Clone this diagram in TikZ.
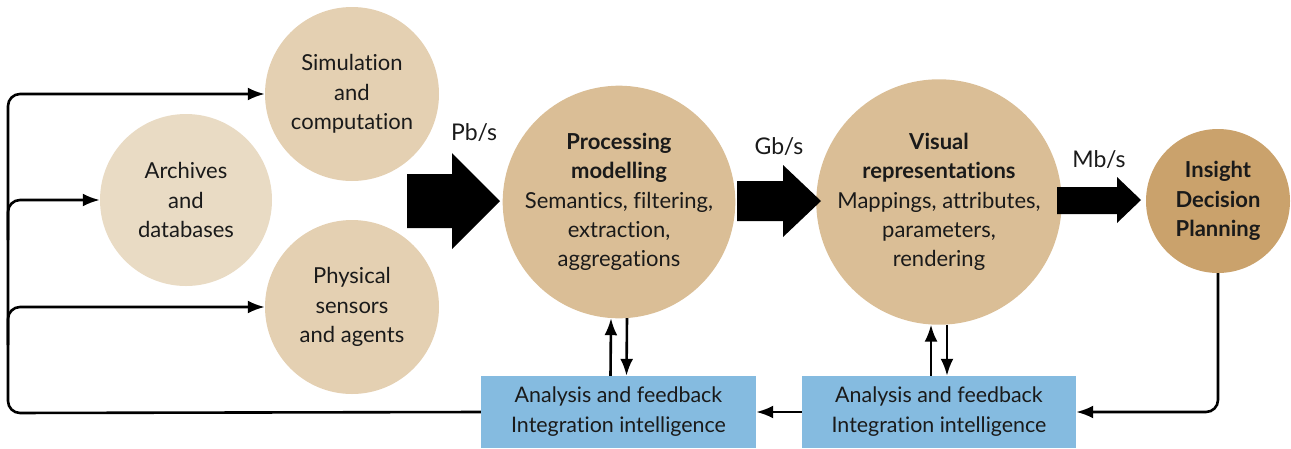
\documentclass[tikz,border=0pt]{standalone}
\usepackage{fontspec}
\setmainfont[Ligatures=NoCommon]{Lato}
\usetikzlibrary{arrows.meta,calc}
\definecolor{cLight}{HTML}{E9DBC4}
\definecolor{cMid}{HTML}{E4D0B2}
\definecolor{cProc}{HTML}{DABE96}
\definecolor{cIns}{HTML}{CAA26C}
\definecolor{cBox}{HTML}{85BBE0}
\definecolor{cText}{HTML}{1A1A1A}
\tikzset{
  circ/.style={circle,inner sep=0pt,align=center,text=cText,font=\fontsize{22}{29.3}\selectfont},
  fb/.style={rectangle,fill=cBox,inner sep=0pt,minimum width=275,minimum height=72,align=center,text=cText,font=\fontsize{21.4}{30}\selectfont},
  conn/.style={line width=2.6,draw=black,-{Latex[length=17,width=13]}},
  rate/.style={text=cText,font=\fontsize{23}{26}\selectfont},
}
\begin{document}
\begin{tikzpicture}[x=1pt,y=-1pt]
\useasboundingbox (0,0) rectangle (1291,448);
% circles
\node[circ,fill=cMid,minimum size=174] (sim) at (352,94) {Simulation\\and\\computation};
\node[circ,fill=cLight,minimum size=172] (arch) at (186,200) {Archives\\and\\databases};
\node[circ,fill=cMid,minimum size=174] (phys) at (352,307) {Physical\\sensors\\and agents};
\node[circ,fill=cProc,minimum size=226] (proc) at (619,202) {\textbf{Processing}\\\textbf{modelling}\\Semantics, filtering,\\extraction,\\aggregations};
\node[circ,fill=cProc,minimum size=226] (vis) at (939,202) {\textbf{Visual}\\\textbf{representations}\\Mappings, attributes,\\parameters,\\rendering};
\node[circ,fill=cIns,minimum size=144] (ins) at (1218,201) {\textbf{Insight}\\\textbf{Decision}\\\textbf{Planning}};
% feedback boxes
\node[fb] (box1) at (618.5,412) {Analysis and feedback\\Integration intelligence};
\node[fb,minimum width=274] (box2) at (939,412) {Analysis and feedback\\Integration intelligence};
% rate labels
\node[rate] (pb) at (474,133) {Pb/s};
\node[rate] (gb) at (779,147) {Gb/s};
\node[rate] (mb) at (1099,160) {Mb/s};
% fat arrows
\fill[black] (407,174) -- (452,174) -- (452,153) -- (500,201) -- (452,249) -- (452,228) -- (407,228) -- cycle;
\fill[black] (737,181) -- (783,181) -- (783,165) -- (821,201) -- (783,237) -- (783,221) -- (737,221) -- cycle;
\fill[black] (1057,187) -- (1117,187) -- (1117,177) -- (1141,200) -- (1117,223) -- (1117,214) -- (1057,214) -- cycle;
% vertical pairs
\draw[conn] ($(box1.north)+(-8,0)$) -- ($(proc.south)+(-8,-0.3)$);
\draw[conn] ($(proc.south)+(8,-0.3)$) -- ($(box1.north)+(8,0)$);
\draw[conn] ($(box2.north)+(-8,0)$) -- ($(vis.south)+(-8,-0.3)$);
\draw[conn] ($(vis.south)+(8,-0.3)$) -- ($(box2.north)+(8,0)$);
% insight to box2
\draw[conn,rounded corners=12] (ins.south) -- (ins.south |- box2.east) -- (box2.east);
% box2 to box1
\draw[conn] (box2.west) -- (box1.east);
% left feedback loop
\coordinate (lb) at (8,413);
\draw[conn,rounded corners=12] (box1.west) -- (lb) -- (lb |- sim.west) -- (sim.west);
\draw[conn,rounded corners=12] (8,240) -- (8,200) -- (arch.west);
\draw[conn,rounded corners=12] (8,345) -- (8,307) -- (phys.west);
\end{tikzpicture}
\end{document}
